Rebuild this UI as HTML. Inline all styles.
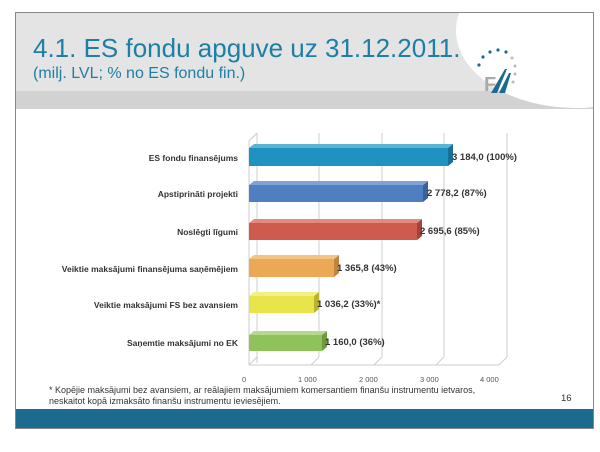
<!DOCTYPE html>
<html><head><meta charset="utf-8"><style>
body{margin:0;width:600px;height:452px;background:#fff;position:relative;overflow:hidden;font-family:"Liberation Sans",sans-serif}
.slide{position:absolute;left:15px;top:12px;width:577px;height:415px;border:1px solid #888;background:#fff;overflow:hidden}
.hdr{position:absolute;left:0;top:0;width:577px;height:78px;background:#e4e4e4}
.band{position:absolute;left:0;top:78px;width:577px;height:18px;background:#d2d2d2}
.circ{position:absolute;left:440px;top:-60px;width:240px;height:155px;border-radius:50%;background:#fff}
.t1{position:absolute;left:17px;top:20px;font-size:26px;color:#1d7fa5;white-space:nowrap}
.t2{position:absolute;left:17px;top:52px;font-size:16px;color:#1d7fa5;white-space:nowrap}
.lbl{position:absolute;right:355px;font-size:8.5px;font-weight:bold;color:#333;white-space:nowrap}
.val{position:absolute;font-size:9.5px;font-weight:bold;color:#333;white-space:nowrap}
.tick{position:absolute;top:362px;font-size:7.5px;color:#555;white-space:nowrap}
.foot{position:absolute;left:33px;top:372px;font-size:9px;color:#333;line-height:11px}
.blue{position:absolute;left:0;top:396px;width:577px;height:19px;background:#1b6a90}
</style></head><body>
<div class="slide">
<div class="hdr"></div><div class="band"></div><div class="circ"></div>
<div class="t1">4.1. ES fondu apguve uz 31.12.2011.</div>
<div class="t2">(milj. LVL; % no ES fondu fin.)</div>
<svg style="position:absolute;left:455px;top:30px" width="70" height="60">
<g fill="#1b6a90"><circle cx="8" cy="22" r="1.6"/><circle cx="12" cy="14" r="1.6"/><circle cx="19" cy="9" r="1.6"/><circle cx="27" cy="7" r="1.6"/><circle cx="35" cy="9" r="1.6"/></g>
<g fill="#bbb"><circle cx="41" cy="15" r="1.5"/><circle cx="44" cy="23" r="1.5"/><circle cx="44" cy="31" r="1.5"/><circle cx="42" cy="39" r="1.5"/></g>
<text x="13" y="48" font-size="20" font-weight="bold" fill="#aaa" font-family="Liberation Sans">F</text>
<polygon points="20,50 34,26 36,26 26,50" fill="#1b6a90"/><polygon points="28,50 38,30 40,30 34,50" fill="#1b6a90"/>
</svg>
<svg style="position:absolute;left:0;top:0" width="577" height="415">
<g stroke="#ccc" stroke-width="1" fill="none">
<line x1="241" y1="120" x2="241" y2="350"/>
<line x1="241" y1="120" x2="233" y2="128"/>
<line x1="303" y1="120" x2="303" y2="344"/><line x1="303" y1="344" x2="295" y2="352"/>
<line x1="366" y1="120" x2="366" y2="344"/><line x1="366" y1="344" x2="358" y2="352"/>
<line x1="428" y1="120" x2="428" y2="344"/><line x1="428" y1="344" x2="420" y2="352"/>
<line x1="491" y1="120" x2="491" y2="344"/><line x1="491" y1="344" x2="483" y2="352"/>
<line x1="233" y1="128" x2="233" y2="352"/><line x1="233" y1="352" x2="483" y2="352"/>
<line x1="241" y1="344" x2="233" y2="352"/>
</g>
<g>
<rect x="233" y="135" width="199" height="18" fill="#1e93bf"/><polygon points="432,135 437,131 437,149 432,153" fill="#167199"/><polygon points="233,135 238,131 437,131 432,135" fill="#5bb3d6"/>
<rect x="233" y="172" width="174" height="17" fill="#4f7fc0"/><polygon points="407,172 412,168 412,185 407,189" fill="#3a6199"/><polygon points="233,172 238,168 412,168 407,172" fill="#7fa3d6"/>
<rect x="233" y="210" width="168" height="17" fill="#cf5a4e"/><polygon points="401,210 406,206 406,223 401,227" fill="#a2443a"/><polygon points="233,210 238,206 406,206 401,210" fill="#e08a80"/>
<rect x="233" y="246" width="85" height="18" fill="#eba855"/><polygon points="318,246 323,242 323,260 318,264" fill="#c0853e"/><polygon points="233,246 238,242 323,242 318,246" fill="#f3c486"/>
<rect x="233" y="283" width="65" height="17" fill="#e8e44a"/><polygon points="298,283 303,279 303,296 298,300" fill="#b8b432"/><polygon points="233,283 238,279 303,279 298,283" fill="#f1ef85"/>
<rect x="233" y="322" width="73" height="16" fill="#8fc25a"/><polygon points="306,322 311,318 311,334 306,338" fill="#6e9a42"/><polygon points="233,322 238,318 311,318 306,322" fill="#b4d88c"/>
</g></svg>
<div class="lbl" style="top:140px">ES fondu finansējums</div>
<div class="lbl" style="top:176px">Apstiprināti projekti</div>
<div class="lbl" style="top:214px">Noslēgti līgumi</div>
<div class="lbl" style="top:251px">Veiktie maksājumi finansējuma saņēmējiem</div>
<div class="lbl" style="top:287px">Veiktie maksājumi FS bez avansiem</div>
<div class="lbl" style="top:325px">Saņemtie maksājumi no EK</div>
<div class="val" style="left:436px;top:139px">3 184,0 (100%)</div>
<div class="val" style="left:411px;top:175px">2 778,2 (87%)</div>
<div class="val" style="left:404px;top:213px">2 695,6 (85%)</div>
<div class="val" style="left:321px;top:250px">1 365,8 (43%)</div>
<div class="val" style="left:301px;top:286px">1 036,2 (33%)*</div>
<div class="val" style="left:309px;top:324px">1 160,0 (36%)</div>
<div class="tick" style="left:226px">0</div>
<div class="tick" style="left:282px">1 000</div>
<div class="tick" style="left:343px">2 000</div>
<div class="tick" style="left:404px">3 000</div>
<div class="tick" style="left:464px">4 000</div>
<div class="foot">* Kopējie maksājumi bez avansiem, ar reālajiem maksājumiem komersantiem finanšu instrumentu ietvaros,<br>neskaitot kopā izmaksāto finanšu instrumentu ieviesējiem.</div>
<div style="position:absolute;left:545px;top:380px;font-size:9.5px;color:#333">16</div>
<div class="blue"></div>
</div>
</body></html>
